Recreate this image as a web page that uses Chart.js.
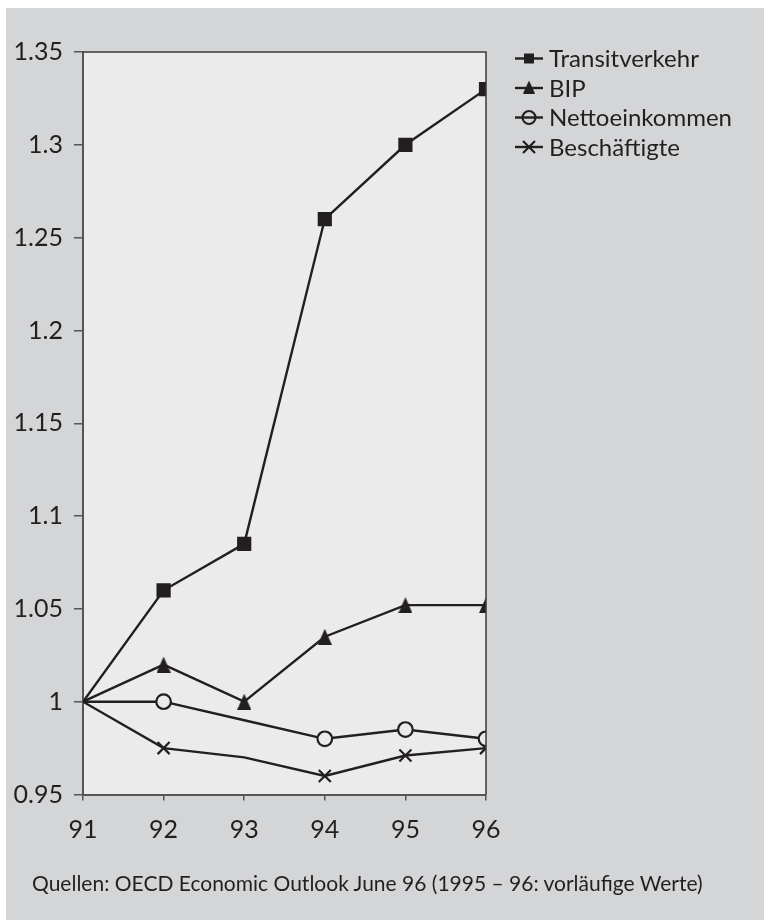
<!DOCTYPE html>
<html>
<head>
<meta charset="utf-8">
<script src="https://cdn.jsdelivr.net/npm/chart.js@4.4.1/dist/chart.umd.min.js"></script>
<style>
  html, body { margin: 0; padding: 0; background: #ffffff; }
  #wrap { position: relative; width: 764px; height: 920px; overflow: hidden; }
  #frame { position: absolute; left: 6px; top: 8px; right: 0; bottom: 0; background: #d4d5d7; }
  #c { position: absolute; left: 0; top: 0; }
  #note { position: absolute; left: 32px; top: 870px; font: 21px Lato, "Open Sans", sans-serif; color: #231f20; white-space: nowrap; }
</style>
</head>
<body>
<div id="wrap">
  <div id="frame"></div>
  <canvas id="c" width="764" height="920"></canvas>
  <div id="note">Quellen: OECD Economic Outlook June 96 (1995 – 96: vorläufige Werte)</div>
</div>
<script>
// Index values, 1991 = 1
const years = [91, 92, 93, 94, 95, 96];
const transitverkehr = [1, 1.06, 1.085, 1.26, 1.30, 1.33];
const bip = [1, 1.02, 1.0, 1.035, 1.052, 1.052];
const nettoeinkommen = [1, 1.0, 0.99, 0.98, 0.985, 0.98];
const beschaeftigte = [1, 0.975, 0.97, 0.96, 0.971, 0.975];
const seriesNames = ['Transitverkehr', 'BIP', 'Nettoeinkommen', 'Beschäftigte'];
// which years carry a marker
const markedTransit = [false, true, true, true, true, true];
const markedBip = [false, true, true, true, true, true];
const markedNetto = [false, true, false, true, true, true];
const markedBesch = [false, true, false, true, true, true];

const INK = '#231f20';
const PLOT_BG = '#ebebeb';
const FONT = 'Lato, "Open Sans", sans-serif';

// upright triangle marker as a small canvas, centred on its box
function triangleImage(w, h) {
  const cv = document.createElement('canvas');
  cv.width = w; cv.height = h;
  const g = cv.getContext('2d');
  g.fillStyle = INK;
  g.beginPath();
  g.moveTo(w / 2, 0);
  g.lineTo(w, h);
  g.lineTo(0, h);
  g.closePath();
  g.fill();
  return cv;
}
const triPlot = triangleImage(14, 16);
const triLegend = triangleImage(12, 13);

const toPoints = vals => vals.map((v, i) => ({ x: years[i], y: v }));
const radii = (flags, r) => flags.map(f => (f ? r : 0));

const styles = [
  { pointStyle: 'rect', r: 8.5, fill: INK },
  { pointStyle: triPlot, r: 8, fill: INK },
  { pointStyle: 'circle', r: 7.3, fill: PLOT_BG },
  { pointStyle: 'crossRot', r: 8.5, fill: INK }
];
const values = [transitverkehr, bip, nettoeinkommen, beschaeftigte];
const marks = [markedTransit, markedBip, markedNetto, markedBesch];

const datasets = values.map((vals, k) => ({
  label: seriesNames[k],
  data: toPoints(vals),
  borderColor: INK,
  borderWidth: 2.4,
  pointStyle: marks[k].map(f => (f ? styles[k].pointStyle : false)),
  pointRadius: radii(marks[k], styles[k].r),
  pointHoverRadius: radii(marks[k], styles[k].r),
  pointBackgroundColor: styles[k].fill,
  pointBorderColor: INK,
  pointBorderWidth: 2.2,
  tension: 0
}));

function drawLegendMarker(ctx, k, x, y) {
  ctx.save();
  ctx.fillStyle = INK;
  ctx.strokeStyle = INK;
  ctx.lineWidth = 2.2;
  ctx.beginPath();
  if (k === 0) {
    ctx.rect(x - 5, y - 5, 10, 10);
    ctx.fill();
  } else if (k === 1) {
    ctx.drawImage(triLegend, x - triLegend.width / 2, y - triLegend.height / 2 - 1);
  } else if (k === 2) {
    ctx.arc(x, y, 6.5, 0, Math.PI * 2);
    ctx.stroke();
  } else {
    const o = 6;
    ctx.moveTo(x - o, y - o); ctx.lineTo(x + o, y + o);
    ctx.moveTo(x - o, y + o); ctx.lineTo(x + o, y - o);
    ctx.stroke();
  }
  ctx.restore();
}

const framePlugin = {
  id: 'frame',
  beforeDraw(chart) {
    const { ctx, chartArea: a } = chart;
    ctx.save();
    ctx.fillStyle = PLOT_BG;
    ctx.fillRect(a.left, a.top, a.right - a.left, a.bottom - a.top);
    ctx.restore();
  },
  afterDatasetsDraw(chart) {
    const { ctx, chartArea: a } = chart;
    ctx.save();
    ctx.strokeStyle = '#3a3a3a';
    ctx.lineWidth = 1.5;
    ctx.beginPath();
    ctx.moveTo(a.left, a.top);
    ctx.lineTo(a.right, a.top);
    ctx.lineTo(a.right, a.bottom);
    ctx.stroke();
    ctx.restore();
  },
  afterDraw(chart) {
    const ctx = chart.ctx;
    const x0 = 515, x1 = 543, tx = 549;
    const rows = [58.5, 88, 117.5, 147];
    chart.data.datasets.forEach((ds, k) => {
      const y = rows[k];
      ctx.save();
      ctx.strokeStyle = INK;
      ctx.lineWidth = 2.4;
      ctx.beginPath();
      ctx.moveTo(x0, y);
      ctx.lineTo(x1, y);
      ctx.stroke();
      ctx.restore();
      drawLegendMarker(ctx, k, (x0 + x1) / 2, y);
      ctx.save();
      ctx.fillStyle = INK;
      ctx.font = '24px ' + FONT;
      ctx.textBaseline = 'middle';
      ctx.fillText(ds.label, tx, y + 1);
      ctx.restore();
    });
  }
};

new Chart(document.getElementById('c'), {
  type: 'line',
  data: { datasets },
  options: {
    responsive: false,
    animation: false,
    devicePixelRatio: 1,
    layout: { padding: { left: 0, top: 52, right: 278, bottom: 0 } },
    plugins: { legend: { display: false }, tooltip: { enabled: false } },
    scales: {
      x: {
        type: 'linear',
        min: 91,
        max: 96,
        afterFit(scale) { scale.height = 125.5; },
        afterBuildTicks(scale) { scale.ticks = years.map(v => ({ value: v })); },
        grid: { display: true, drawOnChartArea: false, drawTicks: true, tickLength: 6, color: '#555', lineWidth: 1.5 },
        border: { display: true, color: '#555', width: 2 },
        ticks: { color: INK, font: { family: FONT, size: 25 }, padding: 14, maxRotation: 0, callback: v => String(v) }
      },
      y: {
        min: 0.95,
        max: 1.35,
        afterFit(scale) { scale.width = 83; },
        ticks: {
          stepSize: 0.05,
          color: INK,
          font: { family: FONT, size: 25 },
          padding: 11,
          callback: v => String(Number(v.toFixed(2)))
        },
        grid: { display: true, drawOnChartArea: false, drawTicks: true, tickLength: 9, color: '#555', lineWidth: 1.5 },
        border: { display: true, color: '#555', width: 2 }
      }
    }
  },
  plugins: [framePlugin]
});
</script>
</body>
</html>
